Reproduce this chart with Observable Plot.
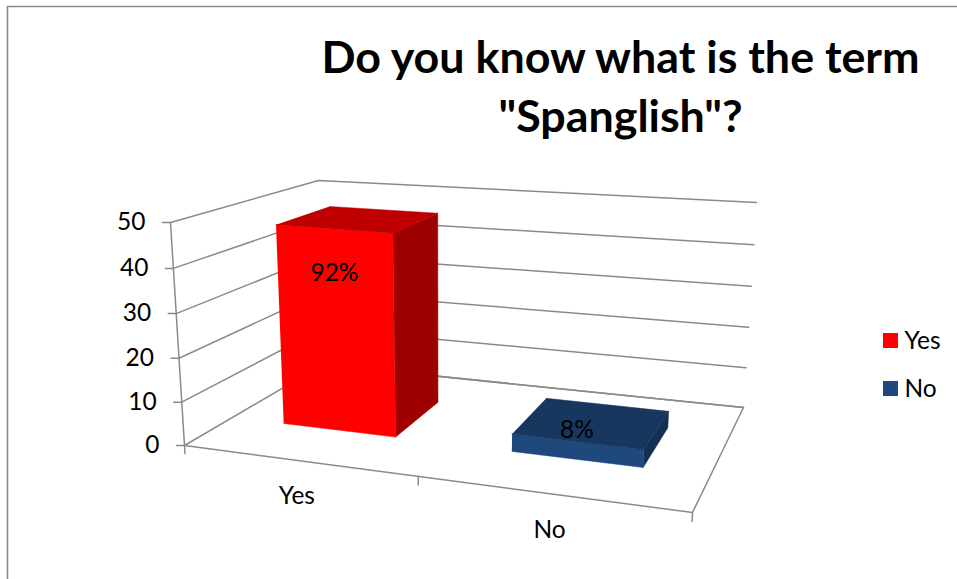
<!DOCTYPE html>
<html>
<head>
<meta charset="utf-8">
<script src="https://cdn.jsdelivr.net/npm/d3@7"></script>
<script src="https://cdn.jsdelivr.net/npm/@observablehq/plot@0.6"></script>
<style>
  html, body { margin: 0; padding: 0; background: #fff; }
  svg { display: block; }
</style>
</head>
<body>
<script>
// Survey answers
const categories = ["Yes", "No"];
const counts = [47, 4];
const valueTicks = [0, 10, 20, 30, 40, 50];
const titleLines = ["Do you know what is the term", "\"Spanglish\"?"];

// Colours per answer: front face, top face, side face
const frontColors = ["#ff0000", "#1f497d"];
const topColors = ["#c00000", "#18375f"];
const sideColors = ["#9e0000", "#152f52"];

const axisColor = "#8a8a8a";
const valueMax = 50;
const total = d3.sum(counts);
const labelSize = 24.5;

// Box seen in perspective: screen position of each corner of the plot volume,
// with keys ordered category-end, value-end, depth-end.
const view = {
  "000": [184, 445], "100": [692, 512], "101": [743, 407], "001": [322.5, 364],
  "010": [170, 222], "110": [704, 264], "111": [756, 202], "011": [318, 180]
};
const foreshorten = (t, k) => (k * t) / (1 + (k - 1) * t);

// Maps (category position 0..2, value, depth 0..1) into the chart's x/y space
function project(cat, value, depth) {
  const s = foreshorten(cat / categories.length, 0.852);
  const f = foreshorten(value / valueMax, 0.965);
  const out = [0, 0];
  for (const a of [0, 1]) for (const b of [0, 1]) for (const c of [0, 1]) {
    const w = (a ? s : 1 - s) * (b ? f : 1 - f) * (c ? depth : 1 - depth);
    const p = view[`${a}${b}${c}`];
    out[0] += w * p[0];
    out[1] += w * p[1];
  }
  return out;
}
const pathOf = (...pts) => pts.map(([c, v, d]) => project(c, v, d));
const X = (d) => d[0];
const Y = (d) => d[1];
const wire = (pts) =>
  Plot.line(pts, { x: X, y: Y, stroke: axisColor, strokeWidth: 1.5 });

// Walls and floor
const grid = valueTicks.map((v) => wire(pathOf([0, v, 0], [0, v, 1], [2, v, 1])));
const floor = wire(pathOf([0, 0, 1], [2, 0, 1], [2, 0, 0], [0, 0, 0], [0, valueMax, 0]));

// Tick marks on both axes
const valueTickMarks = valueTicks.map((v) => {
  const [x, y] = project(0, v, 0);
  return wire([[x - 8, y], [x, y]]);
});
const categoryTickMarks = [0, 1, 2].map((c) => wire(pathOf([c, 0, 0], [c, -1.9, 0])));

// One box per answer
const barHalfWidth = 0.255;
const depthFront = 0.35;
const depthBack = 0.74;
const face = (pts, color) =>
  Plot.line(pts, { x: X, y: Y, fill: color, stroke: color, strokeWidth: 0.5 });
const bars = counts.flatMap((v, i) => {
  const u0 = i + 0.5 - barHalfWidth;
  const u1 = i + 0.5 + barHalfWidth;
  return [
    face(pathOf([u0, 0, depthFront], [u1, 0, depthFront], [u1, v, depthFront], [u0, v, depthFront]), frontColors[i]),
    face(pathOf([u1, 0, depthFront], [u1, 0, depthBack], [u1, v, depthBack], [u1, v, depthFront]), sideColors[i]),
    face(pathOf([u0, v, depthFront], [u1, v, depthFront], [u1, v, depthBack], [u0, v, depthBack]), topColors[i])
  ];
});

// Share labels sit at this height on the value axis, in the bar's front plane
const labelLevels = [37, 6.7];
const shareLabels = counts.map((v, i) => {
  const [x, y] = project(i + 0.5, labelLevels[i], depthFront);
  return { x, y, text: d3.format(".0%")(v / total) };
});

const valueLabels = valueTicks.map((v) => {
  const [x, y] = project(0, v, 0);
  return { x: x - 25, y, text: String(v) };
});
const categoryLabels = categories.map((c, i) => {
  const [x, y] = project(i + 0.5, 0, 0);
  return { x, y: y + 36, text: c };
});

// Legend entries, one row per answer
const legendRows = categories.map((c, i) => ({ text: c, color: frontColors[i], y: 340.5 + i * 48 }));

const chart = Plot.plot({
  width: 957,
  height: 579,
  margin: 0,
  x: { domain: [0, 957], range: [0, 957], axis: null },
  y: { domain: [0, 579], range: [0, 579], axis: null },
  style: { fontFamily: "Lato, sans-serif", background: "#fff", color: "#000" },
  marks: [
    // Chart area border, open on the right and bottom
    Plot.ruleX([7], { y1: 6, y2: 579, stroke: axisColor, strokeWidth: 1.6 }),
    Plot.ruleY([6], { x1: 7, x2: 957, stroke: axisColor, strokeWidth: 1.6 }),
    Plot.text(titleLines, {
      x: 620, y: (d, i) => 58 + i * 59, text: (d) => d,
      fontSize: 44.8, fontWeight: 700, fill: "#000"
    }),
    ...grid,
    floor,
    ...valueTickMarks,
    ...categoryTickMarks,
    ...bars,
    Plot.text(shareLabels, { x: "x", y: "y", text: "text", fontSize: labelSize, fill: "#000" }),
    Plot.text(valueLabels, { x: "x", y: "y", text: "text", fontSize: labelSize, textAnchor: "end", fill: "#000" }),
    Plot.text(categoryLabels, { x: "x", y: "y", text: "text", fontSize: labelSize, fill: "#000" }),
    Plot.rect(legendRows, {
      x1: () => 883, x2: () => 898,
      y1: (d) => d.y - 7.5, y2: (d) => d.y + 7.5, fill: "color"
    }),
    Plot.text(legendRows, { x: () => 904, y: "y", text: "text", fontSize: labelSize, textAnchor: "start", fill: "#000" })
  ]
});
document.body.append(chart);
</script>
</body>
</html>
